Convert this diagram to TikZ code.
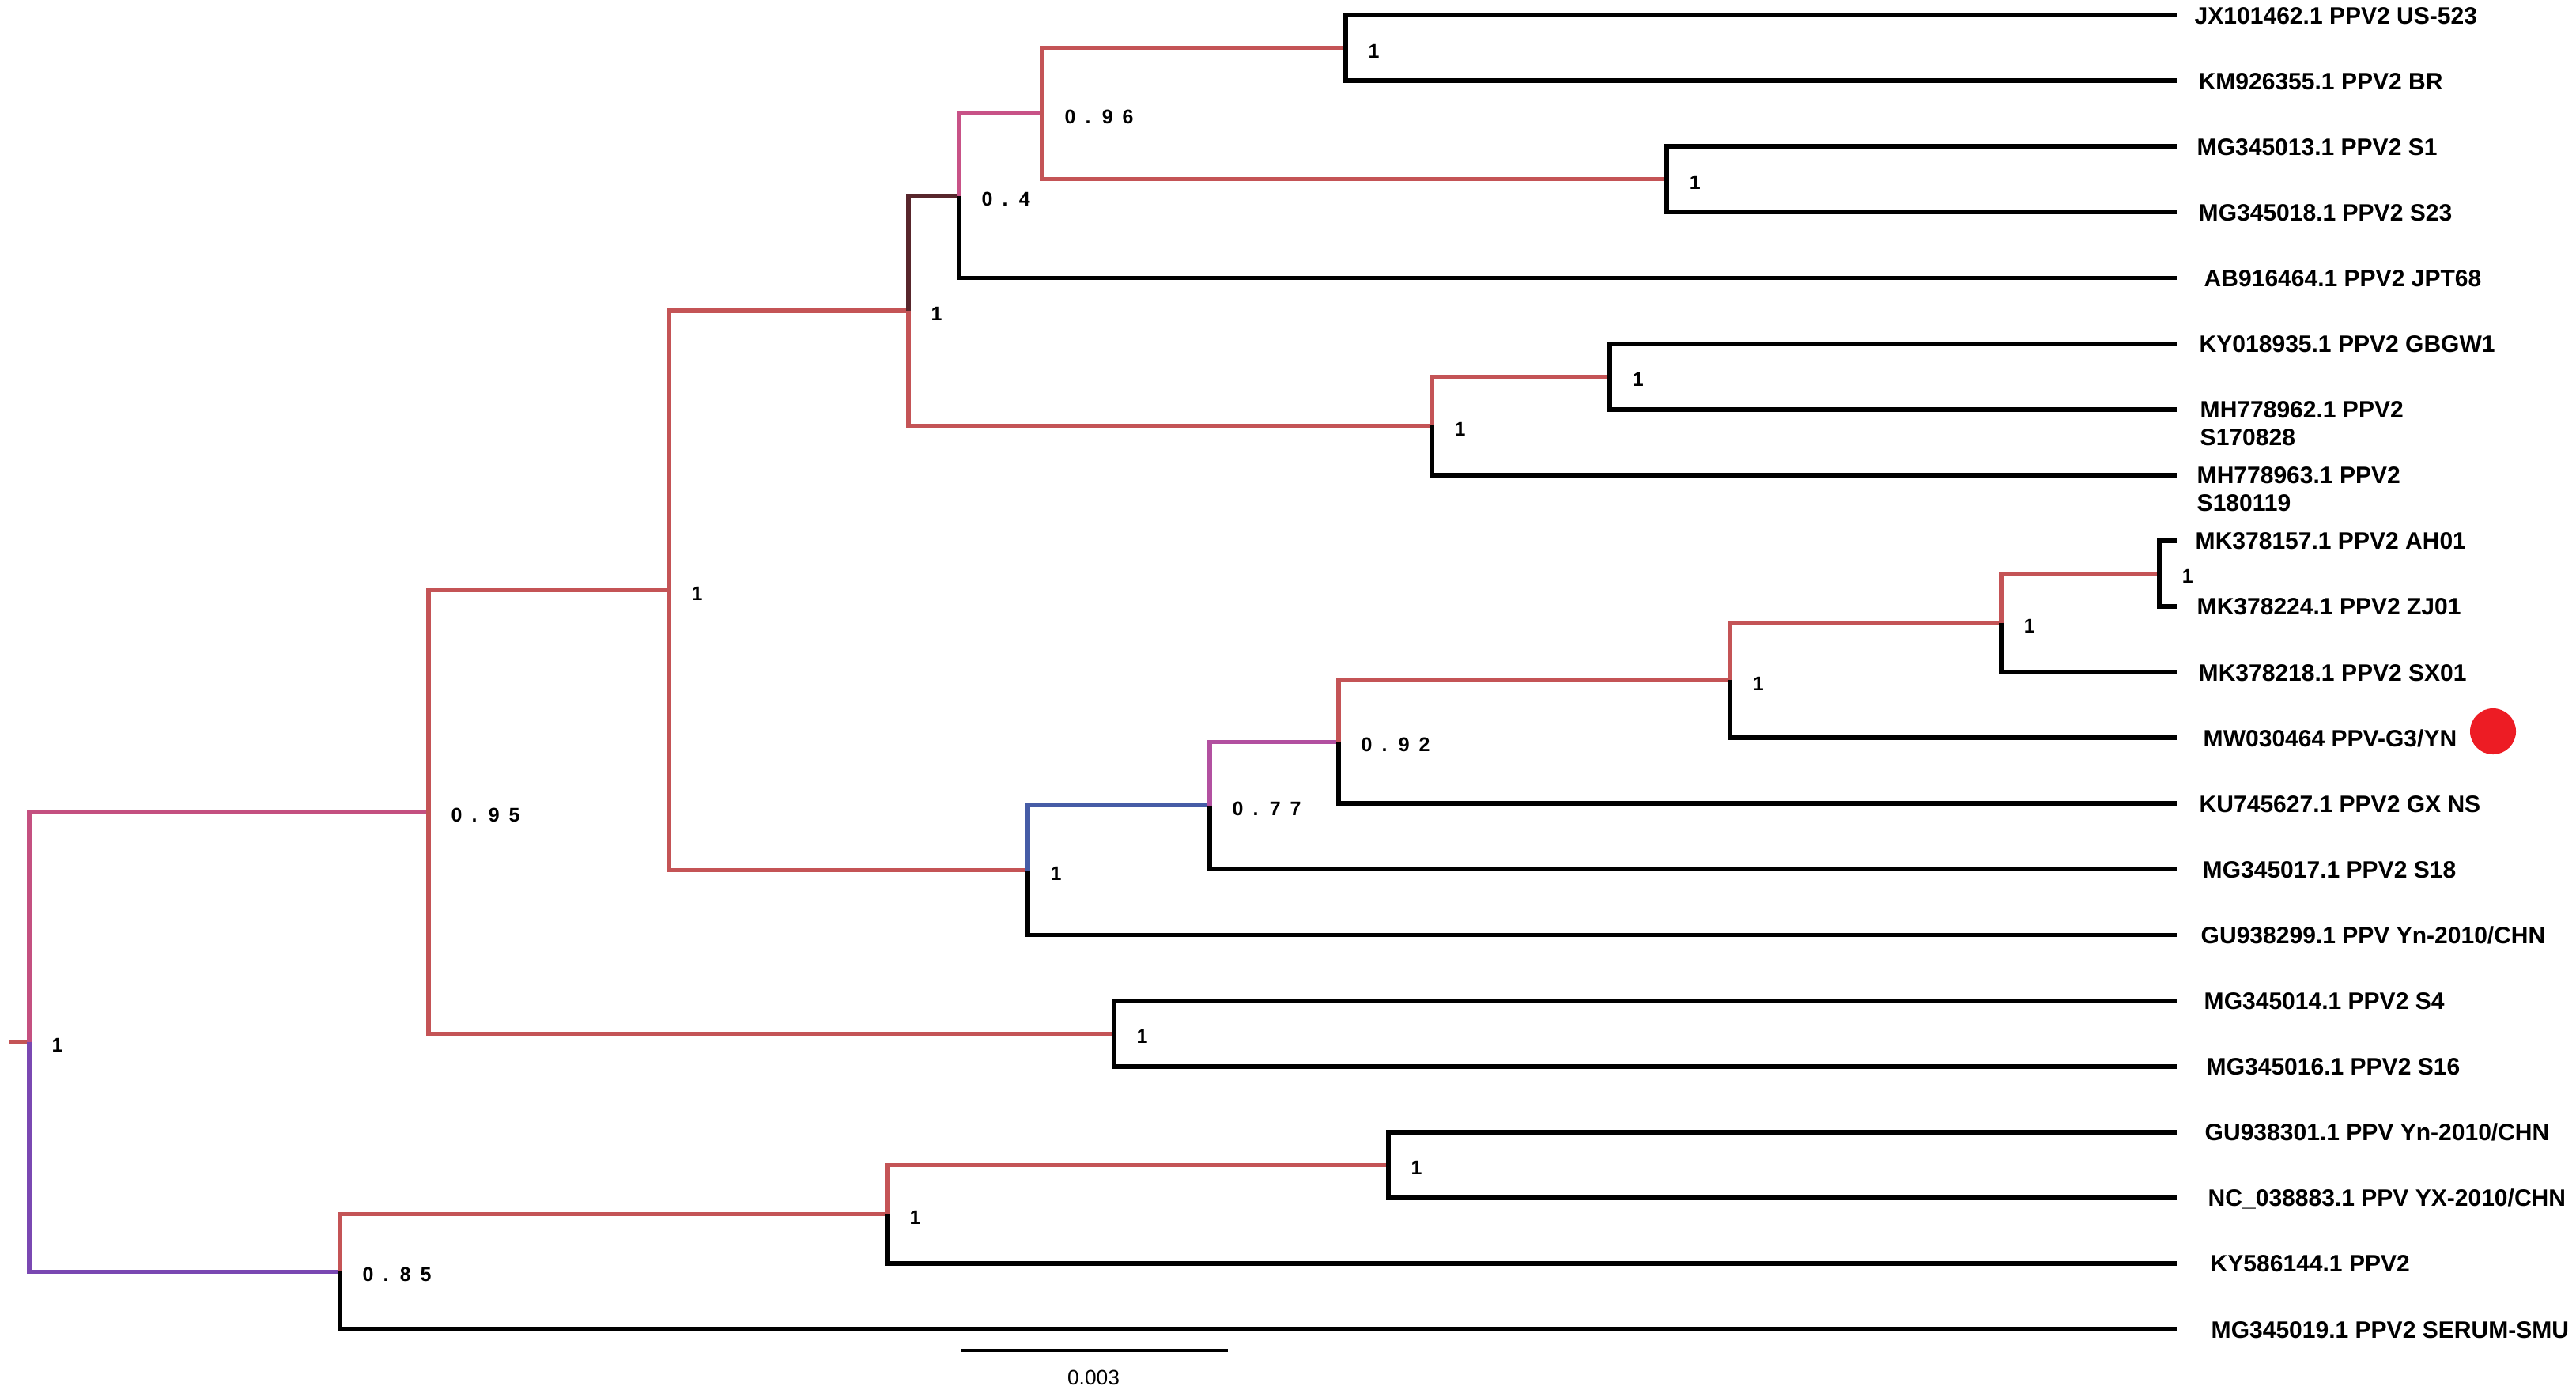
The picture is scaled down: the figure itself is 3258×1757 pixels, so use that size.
\documentclass[tikz,border=0pt]{standalone}
\usepackage{fontspec}
\setmainfont{Liberation Sans}
\usepackage{xcolor}
\usepackage{tikz}
\definecolor{brred}{RGB}{196,84,86}
\definecolor{rootpink}{RGB}{196,80,128}
\definecolor{rootpurple}{RGB}{122,72,178}
\definecolor{brbrown}{RGB}{88,38,44}
\definecolor{gpink}{RGB}{200,82,135}
\definecolor{mmag}{RGB}{178,80,160}
\definecolor{fblue}{RGB}{70,92,166}
\definecolor{dotred}{RGB}{237,28,36}

\begin{document}
\begin{tikzpicture}[x=0.01cm,y=-0.01cm,
	br/.style={line width=1.45pt},
	tip/.style={line width=1.65pt,black},
	leaf/.style={anchor=base west,yshift=-1.1mm,inner sep=0pt,font=\fontsize{8.54}{10}\selectfont\bfseries},
	supp/.style={anchor=west,inner sep=0pt,xshift=2.8mm,yshift=-0.4mm,font={\fontsize{7.1}{8.5}\selectfont\bfseries\spaceskip=0.48em\relax}},
	hit/.style={circle,fill=dotred,inner sep=0pt,minimum size=0.58cm}]
					\useasboundingbox (0,0) rectangle (3258,1757);
					\coordinate (base) at (11,1317.6);
					\coordinate (root) at (37,1317.6);
					\coordinate (A) at (542,1026.9);
					\coordinate (B) at (430,1608.3);
					\coordinate (C) at (846,746.8);
					\coordinate (D) at (1409,1307.05);
					\coordinate (E) at (1149,392.95);
					\coordinate (F) at (1300,1100.6);
					\coordinate (G) at (1213,247.5);
					\coordinate (H) at (1811,538.4);
					\coordinate (I) at (1318,143.65);
					\coordinate (J) at (1702,60.55);
					\coordinate (K) at (2108,226.75);
					\coordinate (L) at (2036,476.05);
					\coordinate (M) at (1530,1018.8);
					\coordinate (N) at (1693,938.3);
					\coordinate (O) at (2188,860.4);
					\coordinate (P) at (2531,787.7);
					\coordinate (Q) at (2731,725.35);
					\coordinate (R) at (1122,1535.6);
					\coordinate (S) at (1756,1473.25);
					\coordinate (t1) at (2753,19);
					\coordinate (t2) at (2753,102.1);
					\coordinate (t3) at (2753,185.2);
					\coordinate (t4) at (2753,268.3);
					\coordinate (t5) at (2753,351.4);
					\coordinate (t6) at (2753,434.5);
					\coordinate (t7) at (2753,517.6);
					\coordinate (t8) at (2753,600.7);
					\coordinate (t9) at (2753,683.8);
					\coordinate (t10) at (2753,766.9);
					\coordinate (t11) at (2753,850);
					\coordinate (t12) at (2753,933.1);
					\coordinate (t13) at (2753,1016.2);
					\coordinate (t14) at (2753,1099.3);
					\coordinate (t15) at (2753,1182.4);
					\coordinate (t16) at (2753,1265.5);
					\coordinate (t17) at (2753,1348.6);
					\coordinate (t18) at (2753,1431.7);
					\coordinate (t19) at (2753,1514.8);
					\coordinate (t20) at (2753,1597.9);
					\coordinate (t21) at (2753,1681);
					\draw[br,brred] (base)--(root);
					\draw[br,rootpink] (root) |- (A);
					\draw[br,rootpurple] (root) |- (B);
					\draw[br,brred] (A) |- (C);
					\draw[br,brred] (A) |- (D);
					\draw[br,brred] (C) |- (E);
					\draw[br,brred] (C) |- (F);
					\draw[br,brbrown] (E) |- (G);
					\draw[br,brred] (E) |- (H);
					\draw[br,gpink] (G) |- (I);
					\draw[tip] (G) |- (t5);
					\draw[br,brred] (I) |- (J);
					\draw[br,brred] (I) |- (K);
					\draw[tip] (J) |- (t1);
					\draw[tip] (J) |- (t2);
					\draw[tip] (K) |- (t3);
					\draw[tip] (K) |- (t4);
					\draw[br,brred] (H) |- (L);
					\draw[tip] (H) |- (t8);
					\draw[tip] (L) |- (t6);
					\draw[tip] (L) |- (t7);
					\draw[br,fblue] (F) |- (M);
					\draw[tip] (F) |- (t15);
					\draw[br,mmag] (M) |- (N);
					\draw[tip] (M) |- (t14);
					\draw[br,brred] (N) |- (O);
					\draw[tip] (N) |- (t13);
					\draw[br,brred] (O) |- (P);
					\draw[tip] (O) |- (t12);
					\draw[br,brred] (P) |- (Q);
					\draw[tip] (P) |- (t11);
					\draw[tip] (Q) |- (t9);
					\draw[tip] (Q) |- (t10);
					\draw[tip] (D) |- (t16);
					\draw[tip] (D) |- (t17);
					\draw[br,brred] (B) |- (R);
					\draw[tip] (B) |- (t21);
					\draw[br,brred] (R) |- (S);
					\draw[tip] (R) |- (t20);
					\draw[tip] (S) |- (t18);
					\draw[tip] (S) |- (t19);
					\node[supp] (sroot) at (root) {1};
					\node[supp] (sA) at (A) {0 . 9 5};
					\node[supp] (sB) at (B) {0 . 8 5};
					\node[supp] (sC) at (C) {1};
					\node[supp] (sD) at (D) {1};
					\node[supp] (sE) at (E) {1};
					\node[supp] (sF) at (F) {1};
					\node[supp] (sG) at (G) {0 . 4};
					\node[supp] (sH) at (H) {1};
					\node[supp] (sI) at (I) {0 . 9 6};
					\node[supp] (sJ) at (J) {1};
					\node[supp] (sK) at (K) {1};
					\node[supp] (sL) at (L) {1};
					\node[supp] (sM) at (M) {0 . 7 7};
					\node[supp] (sN) at (N) {0 . 9 2};
					\node[supp] (sO) at (O) {1};
					\node[supp] (sP) at (P) {1};
					\node[supp] (sQ) at (Q) {1};
					\node[supp] (sR) at (R) {1};
					\node[supp] (sS) at (S) {1};
					\node[leaf] (n1) at (2775,19) {JX101462.1 PPV2 US-523};
					\node[leaf] (n2) at (2780,102.1) {KM926355.1 PPV2 BR};
					\node[leaf] (n3) at (2778,185.2) {MG345013.1 PPV2 S1};
					\node[leaf] (n4) at (2780,268.3) {MG345018.1 PPV2 S23};
					\node[leaf] (n5) at (2787,351.4) {AB916464.1 PPV2 JPT68};
					\node[leaf] (n6) at (2781,434.5) {KY018935.1 PPV2 GBGW1};
					\node[leaf] (n7) at (2782,517.6) {MH778962.1 PPV2};
					\node[leaf,yshift=-0.24cm] (n7b) at (n7.base west) {S170828};
					\node[leaf] (n8) at (2778,600.7) {MH778963.1 PPV2};
					\node[leaf,yshift=-0.24cm] (n8b) at (n8.base west) {S180119};
					\node[leaf] (n9) at (2776,683.8) {MK378157.1 PPV2 AH01};
					\node[leaf] (n10) at (2778,766.9) {MK378224.1 PPV2 ZJ01};
					\node[leaf] (n11) at (2780,850) {MK378218.1 PPV2 SX01};
					\node[leaf] (n12) at (2786,933.1) {MW030464 PPV-G3/YN};
					\node[leaf] (n13) at (2781,1016.2) {KU745627.1 PPV2 GX NS};
					\node[leaf] (n14) at (2785,1099.3) {MG345017.1 PPV2 S18};
					\node[leaf] (n15) at (2783,1182.4) {GU938299.1 PPV Yn-2010/CHN};
					\node[leaf] (n16) at (2787,1265.5) {MG345014.1 PPV2 S4};
					\node[leaf] (n17) at (2790,1348.6) {MG345016.1 PPV2 S16};
					\node[leaf] (n18) at (2788,1431.7) {GU938301.1 PPV Yn-2010/CHN};
					\node[leaf] (n19) at (2792,1514.8) {NC\_038883.1 PPV YX-2010/CHN};
					\node[leaf] (n20) at (2795,1597.9) {KY586144.1 PPV2};
					\node[leaf] (n21) at (2796,1681) {MG345019.1 PPV2 SERUM-SMU};
					\node[hit] (dot) at (3153,925) {};
					\coordinate (sbl) at (1216,1708);
					\coordinate (sbr) at (1553,1708);
					\draw[line width=0.9pt] (sbl)--(sbr);
					\node[font=\fontsize{7.5}{9}\selectfont] (sblab) at (1383,1742) {0.003};
				\end{tikzpicture}
\end{document}
